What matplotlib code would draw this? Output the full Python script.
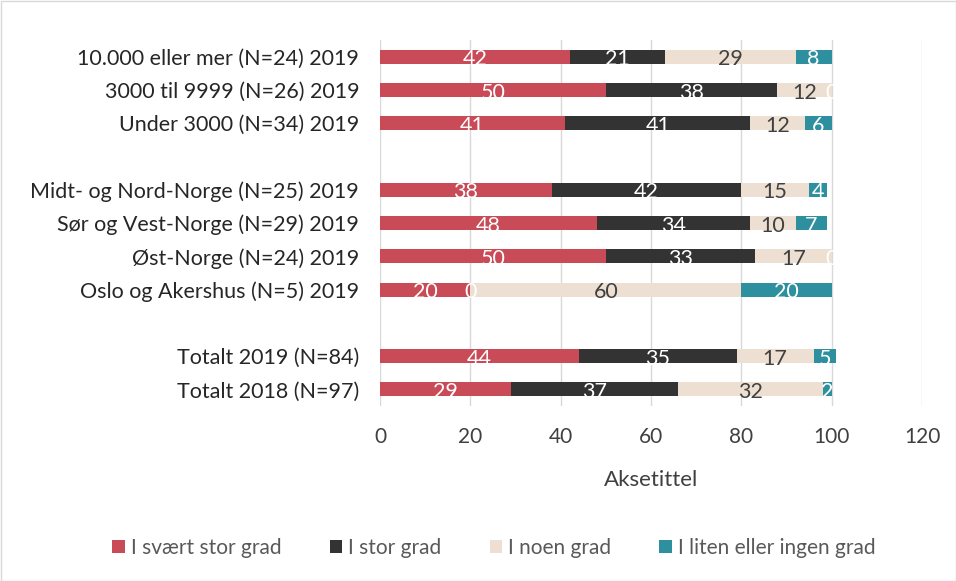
import numpy as np
import matplotlib
matplotlib.use('Agg')
import matplotlib.pyplot as plt
from matplotlib.patches import Rectangle

plt.rcParams['font.family'] = ['Lato', 'DejaVu Sans']

# "" marks the empty slot between groups
categories = ["10.000 eller mer (N=24) 2019", "3000 til 9999 (N=26) 2019",
              "Under 3000 (N=34) 2019", "",
              "Midt- og Nord-Norge (N=25) 2019", "Sør og Vest-Norge (N=29) 2019",
              "Øst-Norge (N=24) 2019", "Oslo og Akershus (N=5) 2019", "",
              "Totalt 2019 (N=84)", "Totalt 2018 (N=97)"]
svaert_stor = [42, 50, 41, None, 38, 48, 50, 20, None, 44, 29]
stor = [21, 38, 41, None, 42, 34, 33, 0, None, 35, 37]
noen = [29, 12, 12, None, 15, 10, 17, 60, None, 17, 32]
liten = [8, 0, 6, None, 4, 7, 0, 20, None, 5, 2]
series_names = ["I svært stor grad", "I stor grad", "I noen grad", "I liten eller ingen grad"]
colors = ["#C84B57", "#333333", "#EDE0D2", "#2E8F9F"]
label_colors = ["white", "white", "#404040", "white"]

fig = plt.figure(figsize=(9.56, 5.81), dpi=100)
fig.patches.append(Rectangle((0.5/956, 0.5/581), 1 - 1/956, 1 - 1/581, transform=fig.transFigure,
                             fill=False, edgecolor='#D9D9D9', lw=1))
ax = fig.add_axes([380/956, 1 - 406/581, 542/956, 366/581])

y = np.arange(len(categories))
left = np.zeros(len(categories))
for vals, name, col, lcol in zip([svaert_stor, stor, noen, liten], series_names, colors, label_colors):
    v = np.array([np.nan if x is None else x for x in vals], dtype=float)
    ax.barh(y, np.nan_to_num(v), left=left, height=0.42, color=col, label=name, zorder=3)
    for yi, (l, w) in enumerate(zip(left, v)):
        if np.isnan(w):
            continue
        ax.text(l + w / 2, yi + 0.08, f"{int(w)}", ha='center', va='center',
                color=lcol, fontsize=15.5, zorder=4)
    left = left + np.nan_to_num(v)

ax.set_ylim(len(categories) - 0.5, -0.5)
ax.set_yticks(y)
ax.set_yticklabels(categories, fontsize=15.5, color='#262626')
ax.set_xlim(0, 120)
ax.set_xticks(range(0, 121, 20))
ax.tick_params(axis='x', labelsize=15, colors='#404040', length=0, pad=15)
ax.tick_params(axis='y', length=0, pad=15)
ax.grid(axis='x', color='#D9D9D9', lw=1, zorder=0)
for s in ax.spines.values():
    s.set_visible(False)
ax.set_xlabel("Aksetittel", fontsize=16, color='#404040', labelpad=17)

ax.legend(loc='center', bbox_to_anchor=(494/956, 1 - 548/581), bbox_transform=fig.transFigure,
          ncol=4, frameon=False, fontsize=15, labelcolor='#595959',
          handlelength=0.6, handleheight=0.6, columnspacing=2.3, handletextpad=0.3)

plt.savefig('out.png', dpi=100)
